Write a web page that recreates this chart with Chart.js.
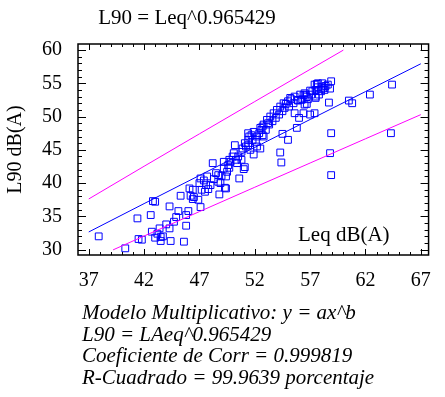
<!DOCTYPE html>
<html>
<head>
<meta charset="utf-8">
<script src="https://cdn.jsdelivr.net/npm/chart.js@4.4.1/dist/chart.umd.min.js"></script>
<style>
  html, body { margin: 0; padding: 0; background: #fff; }
</style>
</head>
<body>
<canvas id="chart" width="445" height="397"></canvas>
<script>
const leqValues = [
  37.9, 40.3, 41.4, 41.5, 41.8, 42.6, 42.8, 43.0, 42.7, 43.0, 43.2, 43.4, 43.5, 43.7, 43.5,
  44.0, 44.3, 44.3, 44.4, 44.7, 44.9, 45.1, 45.3, 45.6, 45.8, 45.8, 46.0, 46.1, 46.2, 46.4,
  46.4, 46.5, 46.9, 47.1, 47.1, 47.0, 47.2, 47.4, 47.6, 47.7, 47.8, 48.0, 47.5, 48.2, 48.3,
  48.5, 48.7, 48.7, 48.9, 49.0, 49.2, 49.4, 49.4, 49.5, 49.6, 49.7, 49.7, 49.8, 50.0, 50.1,
  50.3, 50.4, 50.2, 50.5, 50.6, 51.0, 50.8, 50.9, 51.2, 51.1, 51.4, 51.5, 51.7, 51.9, 52.4,
  52.6, 52.7, 52.8, 48.8, 49.3, 49.2, 50.8, 51.4, 51.4, 51.6, 51.8, 51.9, 52.1, 52.2, 52.2,
  52.5, 52.7, 52.8, 53.0, 53.1, 53.3, 53.4, 53.6, 53.7, 53.9, 54.0, 54.2, 54.3, 54.5, 54.6,
  54.7, 55.0, 55.1, 55.3, 55.5, 55.6, 55.9, 56.1, 56.3, 56.5, 56.7, 57.0, 57.1, 57.4, 57.5,
  57.7, 58.0, 58.1, 58.3, 58.6, 57.5, 57.8, 57.7, 57.2, 56.6, 56.4, 55.9, 56.2, 56.5, 56.8,
  57.5, 58.0, 58.3, 58.4, 57.6, 58.1, 55.6, 56.4, 56.7, 57.4, 55.0, 54.3, 54.5, 55.8, 52.5,
  58.7, 58.9, 58.8, 54.4, 56.0, 57.0, 51.1, 58.9, 58.8, 60.5, 60.8, 62.4, 64.4, 64.3, 58.9,
  53.2, 54.8, 55.2
];
const l90Values = [
  32.0, 30.2, 34.7, 31.6, 31.5, 35.2, 37.3, 37.2, 32.7, 31.8, 32.4, 33.2, 31.9, 32.0, 31.3,
  33.8, 33.2, 36.5, 31.3, 34.2, 34.9, 35.8, 38.1, 31.2, 35.2, 33.6, 35.8, 39.2, 38.1, 39.0,
  37.6, 37.9, 37.5, 36.4, 40.7, 40.0, 39.0, 40.4, 39.7, 41.0, 39.1, 39.7, 38.7, 43.0, 40.6,
  41.5, 40.2, 41.2, 40.0, 41.1, 42.2, 39.2, 41.0, 41.7, 42.7, 43.5, 42.3, 43.2, 44.0, 44.5,
  43.5, 43.0, 45.7, 44.0, 40.7, 42.1, 44.7, 45.2, 45.5, 46.0, 46.5, 47.0, 47.2, 44.3, 47.5,
  48.0, 48.5, 47.0, 38.3, 39.3, 43.2, 43.5, 47.5, 45.7, 45.0, 46.5, 47.7, 46.2, 47.0, 45.5,
  48.3, 47.2, 48.8, 48.0, 49.5, 48.8, 50.0, 49.3, 50.5, 49.8, 51.0, 50.3, 51.5, 50.8, 52.0,
  51.3, 52.3, 51.5, 52.6, 52.0, 53.0, 52.4, 53.3, 52.6, 53.5, 53.0, 53.9, 53.3, 54.8, 54.0,
  54.4, 53.8, 54.5, 54.0, 54.8, 53.0, 53.3, 55.0, 53.8, 53.3, 53.2, 52.5, 52.5, 51.8, 52.6,
  52.8, 54.1, 54.3, 54.6, 54.9, 55.0, 50.5, 50.5, 51.9, 50.5, 46.5, 44.6, 47.4, 48.3, 45.2,
  52.1, 47.5, 44.5, 43.1, 49.8, 50.3, 42.4, 55.3, 54.2, 52.4, 52.0, 53.3, 54.8, 47.5, 41.2,
  49.0, 51.9, 52.8
];

// fitted model L90 = Leq^0.965429 and its prediction limits
const fitX = [37, 42, 47, 52, 57, 62, 67];
const fitY = [32.66, 36.92, 41.15, 45.36, 49.56, 53.75, 57.93];
const upperX = [37, 42, 47, 52, 57, 60];
const upperY = [37.62, 42.53, 47.40, 52.25, 57.09, 59.98];
const lowerX = [39.2, 42, 47, 52, 57, 62, 67];
const lowerY = [29.97, 32.05, 35.72, 39.38, 43.02, 46.66, 50.29];

const xTicks = [37, 42, 47, 52, 57, 62, 67];
const yTicks = [30, 35, 40, 45, 50, 55, 60];

const titleText = "L90 = Leq^0.965429";
const xTitle = "Leq dB(A)";
const yTitle = "L90 dB(A)";
const notes = [
  "Modelo Multiplicativo: y = ax^b",
  "L90 = LAeq^0.965429",
  "Coeficiente de Corr = 0.999819",
  "R-Cuadrado = 99.9639 porcentaje"
];

const serif = "'Liberation Serif', 'Times New Roman', serif";

function pairs(xs, ys) {
  return xs.map((x, i) => ({ x: x, y: ys[i] }));
}

// box + inward ticks on all sides, plus the free texts
const framePlugin = {
  id: "framePlugin",
  afterDatasetsDraw(chart) {
    const { ctx, chartArea: a, scales } = chart;
    ctx.save();
    ctx.strokeStyle = "#000";
    ctx.lineWidth = 1;
    ctx.beginPath();
    for (let v = Math.ceil(scales.x.min); v <= scales.x.max; v++) {
      const px = Math.round(scales.x.getPixelForValue(v)) + 0.5;
      const len = xTicks.includes(v) ? 6 : 3;
      ctx.moveTo(px, a.bottom); ctx.lineTo(px, a.bottom - len);
      ctx.moveTo(px, a.top); ctx.lineTo(px, a.top + len);
    }
    for (let v = Math.ceil(scales.y.min); v <= scales.y.max; v++) {
      const py = Math.round(scales.y.getPixelForValue(v)) + 0.5;
      const len = yTicks.includes(v) ? 8 : 4;
      ctx.moveTo(a.left, py); ctx.lineTo(a.left + len, py);
      ctx.moveTo(a.right, py); ctx.lineTo(a.right - len, py);
    }
    ctx.stroke();
    ctx.lineWidth = 1.5;
    ctx.strokeRect(a.left, a.top, a.right - a.left, a.bottom - a.top);

    ctx.fillStyle = "#000";
    ctx.textBaseline = "alphabetic";
    ctx.textAlign = "center";
    ctx.font = "21px " + serif;
    ctx.fillText(titleText, 187, 24);
    ctx.textAlign = "left";
    ctx.fillText(xTitle, a.left + 220, a.bottom - 14);
    ctx.font = "italic 21px " + serif;
    notes.forEach((t, i) => ctx.fillText(t, 82, 319 + i * 21.5));
    ctx.restore();
  }
};

const ctx = document.getElementById("chart").getContext("2d");
const chart = new Chart(ctx, {
  type: "scatter",
  data: {
    datasets: [
      {
        label: "upper",
        data: pairs(upperX, upperY),
        showLine: true,
        borderColor: "#ff00ff",
        borderWidth: 1,
        pointRadius: 0,
        tension: 0
      },
      {
        label: "lower",
        data: pairs(lowerX, lowerY),
        showLine: true,
        borderColor: "#ff00ff",
        borderWidth: 1,
        pointRadius: 0,
        tension: 0
      },
      {
        label: "fit",
        data: pairs(fitX, fitY),
        showLine: true,
        borderColor: "#0000ff",
        borderWidth: 1,
        pointRadius: 0,
        tension: 0
      },
      {
        label: "L90",
        data: pairs(leqValues, l90Values),
        pointStyle: "rect",
        pointRadius: 4.8,
        borderWidth: 1,
        borderColor: "#0000ff",
        backgroundColor: "rgba(0,0,0,0)"
      }
    ]
  },
  options: {
    responsive: false,
    animation: false,
    layout: { padding: { top: 44, right: 8, left: 0, bottom: 0 } },
    plugins: {
      legend: { display: false },
      tooltip: { enabled: false }
    },
    scales: {
      x: {
        type: "linear",
        min: 36.03,
        max: 67.7,
        afterBuildTicks: (s) => { s.ticks = xTicks.map(v => ({ value: v })); },
        afterFit: (s) => { s.height = 142; },
        grid: { display: false, drawTicks: false },
        border: { display: false },
        ticks: { color: "#000", font: { family: serif, size: 20 }, padding: 14, maxRotation: 0, autoSkip: false }
      },
      y: {
        type: "linear",
        min: 29.2,
        max: 60.9,
        afterBuildTicks: (s) => { s.ticks = yTicks.map(v => ({ value: v })); },
        afterFit: (s) => { s.width = 78; },
        grid: { display: false, drawTicks: false },
        border: { display: false },
        ticks: { color: "#000", font: { family: serif, size: 20 }, padding: 16, autoSkip: false },
        title: { display: true, text: yTitle, color: "#000", font: { family: serif, size: 20 }, padding: { top: 4, bottom: 0 } }
      }
    }
  },
  plugins: [framePlugin]
});
</script>
</body>
</html>
